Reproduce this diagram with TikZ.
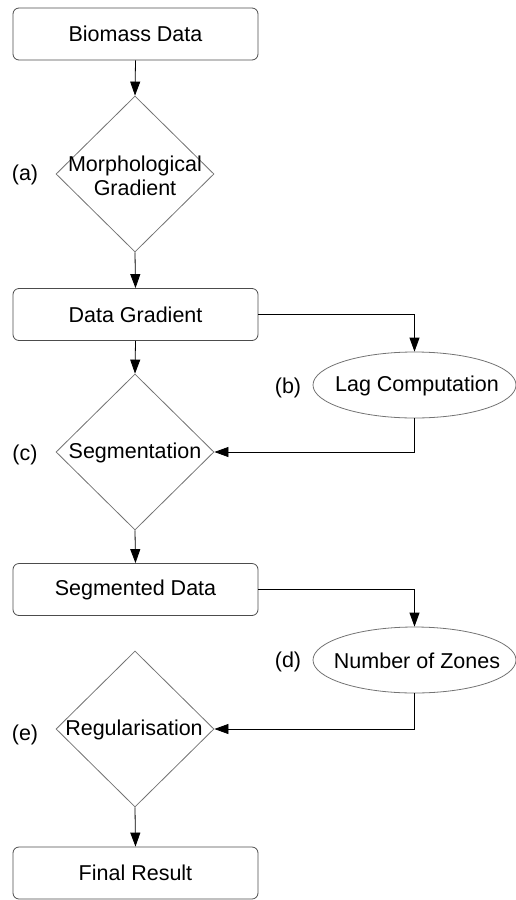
\documentclass[tikz,border=0pt]{standalone}
\usepackage{fontspec}
\setmainfont{Liberation Sans}
\usetikzlibrary{shapes.geometric,arrows.meta}
\begin{document}
\begin{tikzpicture}[x=1pt,y=-1pt,
  every node/.style={font=\fontsize{21.5}{23.5}\selectfont},
  box/.style={draw=black!70,line width=0.8pt,rounded corners=6pt,minimum width=245pt,minimum height=52pt,inner sep=0pt},
  dia/.style={draw=black!55,line width=0.8pt,diamond,minimum width=158pt,minimum height=156pt,inner sep=0pt},
  ell/.style={draw=black!55,line width=0.8pt,ellipse,minimum width=203pt,minimum height=66pt,inner sep=0pt},
  txt/.style={inner sep=0pt,align=center},
  conn/.style={draw=black,line width=0.8pt,-{Triangle[length=14pt,width=10pt]}}]
\useasboundingbox (0,0) rectangle (516,900);
\node[box] (bio) at (135.5,34) {Biomass Data};
\node[dia] (dA) at (135,174) {};
\node[txt] (tA) at (135,176) {Morphological\\Gradient};
\node[box] (dg) at (135.5,314.5) {Data Gradient};
\node[ell] (lag) at (414.5,385) {};
\node[txt] (tLag) at (417,386) {Lag Computation};
\node[dia] (dC) at (135,452) {};
\node[txt] (tC) at (135,453) {Segmentation};
\node[box] (sd) at (135.5,589.5) {Segmented Data};
\node[ell] (noz) at (414.5,660) {};
\node[txt] (tNoz) at (417,661) {Number of Zones};
\node[dia] (dE) at (135,729) {};
\node[txt] (tE) at (134,730) {Regularisation};
\node[box] (fr) at (135.5,873) {Final Result};
\node[txt] (la) at (25,175) {(a)};
\node[txt] (lb) at (288,388) {(b)};
\node[txt] (lc) at (25,455) {(c)};
\node[txt] (ld) at (288,662) {(d)};
\node[txt] (le) at (25,735) {(e)};
\draw[conn] (bio.south) -- (dA.north);
\draw[conn] (dA.south) -- (dg.north);
\draw[conn] (dg.south) -- (dC.north);
\draw[conn] (dg.east) -| (lag.north);
\draw[conn] (lag.south) |- (dC.east);
\draw[conn] (dC.south) -- (sd.north);
\draw[conn] (sd.east) -| (noz.north);
\draw[conn] (noz.south) |- (dE.east);
\draw[conn] (dE.south) -- (fr.north);
\end{tikzpicture}
\end{document}
